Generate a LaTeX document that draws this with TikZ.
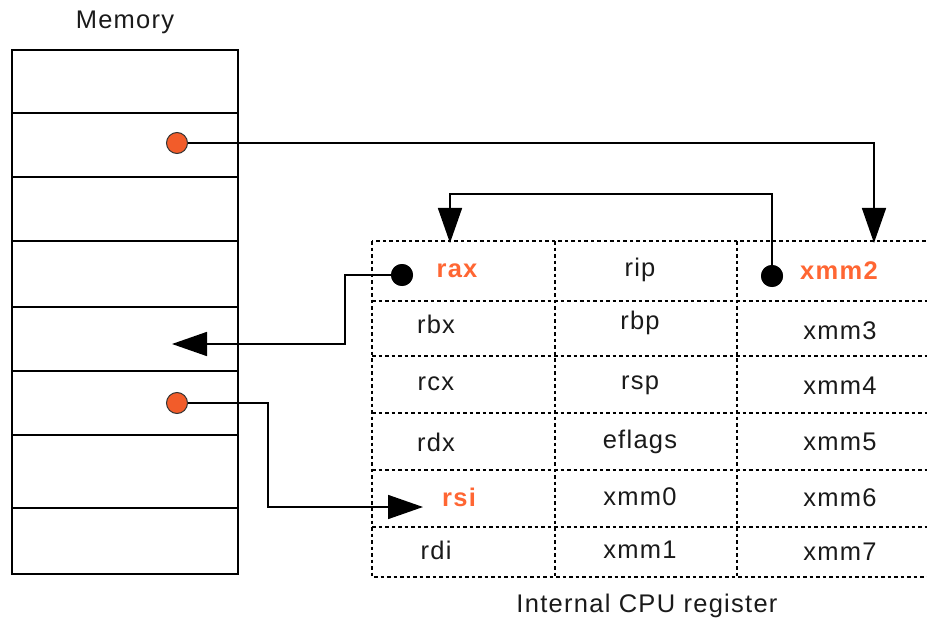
\documentclass[tikz,border=0pt]{standalone}
\usepackage{fontspec}
\setmainfont{Liberation Sans}[LetterSpace=5]
\usetikzlibrary{arrows.meta}
\definecolor{hot}{HTML}{FF6633}
\definecolor{dotfill}{HTML}{F25C2A}
\definecolor{ink}{HTML}{1A1A1A}
\begin{document}
\begin{tikzpicture}[x=1pt,y=-1pt,
  txt/.style={font=\fontsize{25.5}{30}\selectfont, text=ink, inner sep=0pt, anchor=center},
  hottxt/.style={txt, text=hot, font=\fontsize{25.5}{30}\selectfont\bfseries},
  memcell/.style={draw, line width=2pt, minimum width=226pt, inner sep=0pt, outer sep=0pt},
  grid/.style={line width=1.6pt, dash pattern=on 3.5pt off 3pt},
  odot/.style={circle, draw=black!80, line width=1pt, fill=dotfill, minimum size=21pt, inner sep=0pt},
  bdot/.style={circle, fill=black, minimum size=22pt, inner sep=0pt},
  conn/.style={line width=1.6pt},
  tip/.style={-{Triangle[length=35pt,width=24pt]}}]
\useasboundingbox (0,0) rectangle (927,623);
\clip (0,0) rectangle (927,623);

% Memory
\node[txt] (memlabel) at (125,22) {Memory};
\node[memcell, minimum height=63pt] (m1) at (125,81.5) {};
\node[memcell, minimum height=64pt] (m2) at (125,145) {};
\node[memcell, minimum height=64pt] (m3) at (125,209) {};
\node[memcell, minimum height=66pt] (m4) at (125,274) {};
\node[memcell, minimum height=64pt] (m5) at (125,339) {};
\node[memcell, minimum height=64pt] (m6) at (125,403) {};
\node[memcell, minimum height=73pt] (m7) at (125,471.5) {};
\node[memcell, minimum height=66pt] (m8) at (125,541) {};

% Register table grid
\draw[grid] (372,241) rectangle (940,577);
\foreach \yy in {301,356,413,470,527} \draw[grid] (372,\yy) -- (940,\yy);
\draw[grid] (555,241) -- (555,577);
\draw[grid] (737,241) -- (737,577);

% Register texts
\node[hottxt] (rax) at (457,271) {rax};
\node[txt] (rip) at (640,270) {rip};
\node[hottxt] (xmm2) at (839,271) {xmm2};
\node[txt] (rbx) at (436,324) {rbx};
\node[txt] (rbp) at (640,323) {rbp};
\node[txt] (xmm3) at (840,331) {xmm3};
\node[txt] (rcx) at (436,384) {rcx};
\node[txt] (rsp) at (640,385) {rsp};
\node[txt] (xmm4) at (840,386) {xmm4};
\node[txt] (rdx) at (436,442) {rdx};
\node[txt] (eflags) at (640,442) {eflags};
\node[txt] (xmm5) at (840,442) {xmm5};
\node[hottxt] (rsi) at (459,497) {rsi};
\node[txt] (xmm0) at (640,497) {xmm0};
\node[txt] (xmm6) at (840,498) {xmm6};
\node[txt] (rdi) at (436,550) {rdi};
\node[txt] (xmm1) at (640,550) {xmm1};
\node[txt] (xmm7) at (840,552) {xmm7};
\node[txt] (caption) at (647,606) {Internal CPU register};

% Dots
\node[odot] (o1) at (177,143) {};
\node[odot] (o2) at (177,403) {};
\node[bdot] (b1) at (402,275) {};
\node[bdot] (b2) at (772,276) {};

% Arrow end points
\coordinate (t1) at (874,243);
\coordinate (t2) at (450,243);
\coordinate (t3) at (172,344);
\coordinate (t4) at (423,507);

% Connectors
\draw[conn, tip] (o1.east) -- (874,143) -- (t1);
\draw[conn, tip] (b2.center) -- (772,194) -- (450,194) -- (t2);
\draw[conn, tip] (b1.center) -- (345,275) -- (345,344) -- (t3);
\draw[conn, tip] (o2.east) -- (268,403) -- (268,507) -- (t4);
\node[bdot] at (b1) {};
\node[bdot] at (b2) {};
\end{tikzpicture}
\end{document}
